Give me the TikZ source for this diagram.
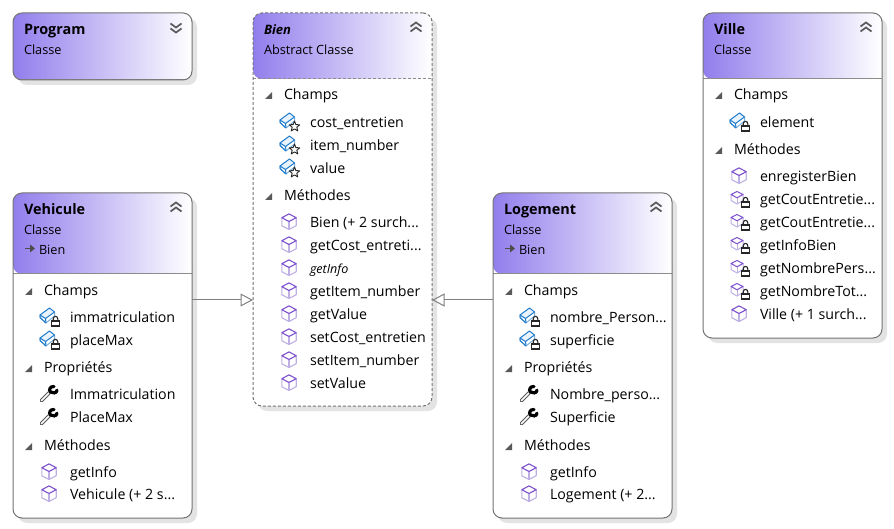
\documentclass[tikz,border=0pt]{standalone}
\usepackage{fontspec}
\setmainfont{Open Sans}
\usetikzlibrary{arrows.meta,shadows}

\definecolor{headleft}{RGB}{146,126,236}
\definecolor{cubetop}{RGB}{125,80,205}
\definecolor{cubelow}{RGB}{190,175,228}
\definecolor{fieldblue}{RGB}{30,122,203}
\definecolor{fieldtop}{RGB}{232,243,253}
\definecolor{fieldlow}{RGB}{120,175,225}
\newcommand{\cutmark}{...}

\tikzset{
    % Icons
    method cube/.pic={
        \draw[cubelow,line width=1.1pt,line join=round,fill=white] (-7.2,-4.3) -- (-7.2,3.7) -- (0,7.5) -- (7.2,3.7) -- (7.2,-4.3);
        \draw[cubelow,line width=1.1pt] (0,-.5) -- (0,7.5);
        \draw[cubetop,line width=1.1pt,line join=round] (-7.2,-4.3) -- (0,-8.1) -- (7.2,-4.3) -- (0,-.5) -- cycle;
    },
    small cube/.pic={
        \draw[cubelow,line width=1pt,line join=round,fill=white] (-8,-4.5) -- (-8,1.5) -- (-2,5) -- (4,1.5) -- (4,-4.5);
        \draw[cubelow,line width=1pt] (-2,-1.2) -- (-2,5);
        \draw[cubetop,line width=1pt,line join=round] (-8,-4.5) -- (-2,-7.5) -- (4,-4.5) -- (-2,-1.2) -- cycle;
    },
    field box/.pic={
        \draw[fieldlow,line width=1pt,line join=round,fill=white] (-9,-2) -- (-9,.5) -- (-3,6) -- (5.5,-1) -- (5.5,-5) -- cycle;
        \draw[fieldblue,line width=1pt,line join=round,fill=fieldtop] (-9,-2) -- (.5,-9) -- (5.5,-5) -- (-3.5,1.5) -- cycle;
        \draw[fieldblue,line width=1pt] (-9,-2) -- (-9,.5) -- (-3,6);
        \draw[fieldblue,line width=1pt] (-3.5,1.5) -- (-3,6);
    },
    lock/.pic={
        \fill[white] (-5,-1) rectangle (5,6);
        \draw[black!85,line width=1.1pt] (-2.3,0) -- (-2.3,-2) .. controls (-2.3,-5.5) and (2.3,-5.5) .. (2.3,-2) -- (2.3,0);
        \draw[black!85,line width=1.1pt,fill=white] (-3.8,0) rectangle (3.8,5);
    },
    star/.pic={
        \draw[black!85,line width=.9pt,line join=round,fill=white] (0,-5.5) -- (1.4,-1.9) -- (5.2,-1.7) -- (2.3,.8) -- (3.3,4.5) -- (0,2.4) -- (-3.3,4.5) -- (-2.3,.8) -- (-5.2,-1.7) -- (-1.4,-1.9) -- cycle;
    },
    field lock/.pic={
        \pic at (0,0) {field box};
        \pic at (6.5,4) {lock};
    },
    field star/.pic={
        \pic at (0,0) {field box};
        \pic at (5.5,4.5) {star};
    },
    method lock/.pic={
        \pic at (0,0) {small cube};
        \pic at (6.5,3) {lock};
    },
    wrench/.pic={
        \draw[black!65,line width=3.6pt,line cap=round] (-7.5,6.5) -- (0,-1);
        \draw[white,line width=1.6pt,line cap=round] (-7.5,6.5) -- (0,-1);
        \draw[black,line width=3.2pt,line cap=round] (5,-7.5) .. controls (1,-8) and (-.5,-3.5) .. (1.5,-2) .. controls (3.5,-.5) and (7.5,-.5) .. (8,-3.8);
    },
    toggle/.pic={
        \fill[black!65] (-3.5,3) -- (3.5,3) -- (3.5,-4) -- cycle;
    },
    fold up/.pic={
        \draw[black!65,line width=1.7pt] (-5.5,-1) -- (0,-5) -- (5.5,-1);
        \draw[black!65,line width=1.7pt] (-5.5,4) -- (0,0) -- (5.5,4);
    },
    fold down/.pic={
        \draw[black!65,line width=1.7pt] (-5.5,-4) -- (0,0) -- (5.5,-4);
        \draw[black!65,line width=1.7pt] (-5.5,1) -- (0,5) -- (5.5,1);
    },
    base arrow/.pic={
        \draw[black!70,line width=1.2pt] (-5,0) -- (0,0);
        \fill[black!70] (0,-4) -- (5,0) -- (0,4) -- cycle;
    },
    % Boxes and texts
    class node/.style 2 args={draw=black!55,line width=1pt,fill=white,rounded corners=9pt,
        anchor=north west,minimum width=179pt,minimum height=#1pt,inner sep=0pt,outer sep=0pt,
        drop shadow={shadow xshift=5pt,shadow yshift=-5pt,fill=black!11,opacity=1},
        path picture={
            \shade[left color=headleft,right color=white] (path picture bounding box.north west) rectangle ([yshift=-#2pt]path picture bounding box.north east);
            \draw[black!45,line width=1pt] ([yshift=-#2pt]path picture bounding box.north west) -- ([yshift=-#2pt]path picture bounding box.north east);
        }},
    label node/.style={anchor=west,inner sep=0pt,outer sep=0pt,text height=11pt,text depth=0pt,font=\fontsize{14.2}{16}\selectfont,text=black},
    title node/.style={label node,font=\fontsize{14.4}{16}\selectfont\bfseries},
    kind node/.style={label node,font=\fontsize{12.7}{15}\selectfont},
    inherit line/.style={draw=black!50,line width=1pt,-{Triangle[open,length=12.5pt,width=13pt]}}
}

\begin{document}
\begin{tikzpicture}[x=1pt,y=-1pt]
    \useasboundingbox (0,0) rectangle (894,529);

% Class boxes
    \node[class node={67}{67}] (Program) at (13,13) {};
    \node[class node={393}{66},dashed,dash pattern=on 3pt off 2pt] (Bien) at (253,13) {};
    \node[class node={325}{66}] (Ville) at (703,13) {};
    \node[class node={325}{81}] (Vehicule) at (13,193) {};
    \node[class node={325}{81}] (Logement) at (493,193) {};

% Headers
    \foreach \name / \x / \y / \kind in {Program/24/29/Classe, Ville/714/29/Classe, Vehicule/24/209/Classe, Logement/504/209/Classe} {
        \node[title node] (\name-title) at (\x,\y) {\name};
        \node[kind node] (\name-kind) at (\x,\y+20) {\kind};
    }
    \node[title node,font=\fontsize{13}{15}\selectfont\bfseries\itshape] (Bien-title) at (264,29) {Bien};
    \node[kind node] (Bien-kind) at (264,49) {Abstract Classe};

    \pic at (176,27.5) {fold down};
    \foreach \x / \y in {416/27.5, 866/27.5, 176/207.5, 656/207.5}
        \pic at (\x,\y) {fold up};

    \foreach \name / \x in {Vehicule/24, Logement/504} {
        \pic at (\x+6,248.5) {base arrow};
        \node[kind node] (\name-base) at (\x+15,249) {Bien};
    }

% Bien
    \foreach \name / \y / \lab in {champs/94/Champs, methodes/195/Méthodes} {
        \pic at (268.5,\y+2) {toggle};
        \node[label node] (Bien-\name) at (284,\y) {\lab};
    }
    \foreach \name / \y / \lab in {cost/122/cost\_entretien, item/145/item\_number, value/168/value} {
        \pic at (289,\y) {field star};
        \node[label node] (Bien-\name) at (310,\y) {\lab};
    }
    \foreach \name / \y / \lab in {ctor/222/Bien (+ 2 surch\cutmark, getcost/245/getCost\_entreti\cutmark, getitem/291/getItem\_number, getvalue/314/getValue, setcost/337/setCost\_entretien, setitem/360/setItem\_number, setvalue/383/setValue} {
        \pic at (289,\y) {method cube};
        \node[label node] (Bien-\name) at (310,\y) {\lab};
    }
    \pic at (289,268) {method cube};
    \node[label node,font=\fontsize{12.5}{14}\selectfont\itshape] (Bien-getinfo) at (310,268) {getInfo};

% Ville
    \foreach \name / \y / \lab in {champs/94/Champs, methodes/149/Méthodes} {
        \pic at (718.5,\y+2) {toggle};
        \node[label node] (Ville-\name) at (734,\y) {\lab};
    }
    \pic at (739,122) {field lock};
    \node[label node] (Ville-element) at (760,122) {element};
    \foreach \name / \y / \lab in {enreg/176/enregisterBien, ville/314/Ville (+ 1 surch\cutmark} {
        \pic at (739,\y) {method cube};
        \node[label node] (Ville-\name) at (760,\y) {\lab};
    }
    \foreach \name / \y / \lab in {coutA/199/getCoutEntretie\cutmark, coutB/222/getCoutEntretie\cutmark, info/245/getInfoBien, pers/268/getNombrePers\cutmark, tot/291/getNombreTot\cutmark} {
        \pic at (739,\y) {method lock};
        \node[label node] (Ville-\name) at (760,\y) {\lab};
    }

% Vehicule
    \foreach \name / \y / \lab in {champs/290/Champs, props/367/Propriétés, methodes/445/Méthodes} {
        \pic at (28.5,\y+2) {toggle};
        \node[label node] (Vehicule-\name) at (44,\y) {\lab};
    }
    \foreach \name / \y / \lab in {immat/317/immatriculation, place/340/placeMax} {
        \pic at (49,\y) {field lock};
        \node[label node] (Vehicule-\name) at (70,\y) {\lab};
    }
    \foreach \name / \y / \lab in {Immat/394/Immatriculation, Place/417/PlaceMax} {
        \pic at (49,\y) {wrench};
        \node[label node] (Vehicule-\name) at (70,\y) {\lab};
    }
    \foreach \name / \y / \lab in {info/472/getInfo, ctor/494/Vehicule (+ 2 s\cutmark} {
        \pic at (49,\y) {method cube};
        \node[label node] (Vehicule-\name) at (70,\y) {\lab};
    }

% Logement
    \foreach \name / \y / \lab in {champs/290/Champs, props/367/Propriétés, methodes/445/Méthodes} {
        \pic at (508.5,\y+2) {toggle};
        \node[label node] (Logement-\name) at (524,\y) {\lab};
    }
    \foreach \name / \y / \lab in {nombre/317/nombre\_Person\cutmark, surface/340/superficie} {
        \pic at (529,\y) {field lock};
        \node[label node] (Logement-\name) at (550,\y) {\lab};
    }
    \foreach \name / \y / \lab in {Nombre/394/Nombre\_perso\cutmark, Surface/417/Superficie} {
        \pic at (529,\y) {wrench};
        \node[label node] (Logement-\name) at (550,\y) {\lab};
    }
    \foreach \name / \y / \lab in {info/472/getInfo, ctor/494/Logement (+ 2\cutmark} {
        \pic at (529,\y) {method cube};
        \node[label node] (Logement-\name) at (550,\y) {\lab};
    }

% Inheritance
    \coordinate (joint) at (0,300);
    \draw[inherit line] (Vehicule.east |- joint) -- (Bien.west |- joint);
    \draw[inherit line] (Logement.west |- joint) -- (Bien.east |- joint);

\end{tikzpicture}
\end{document}
